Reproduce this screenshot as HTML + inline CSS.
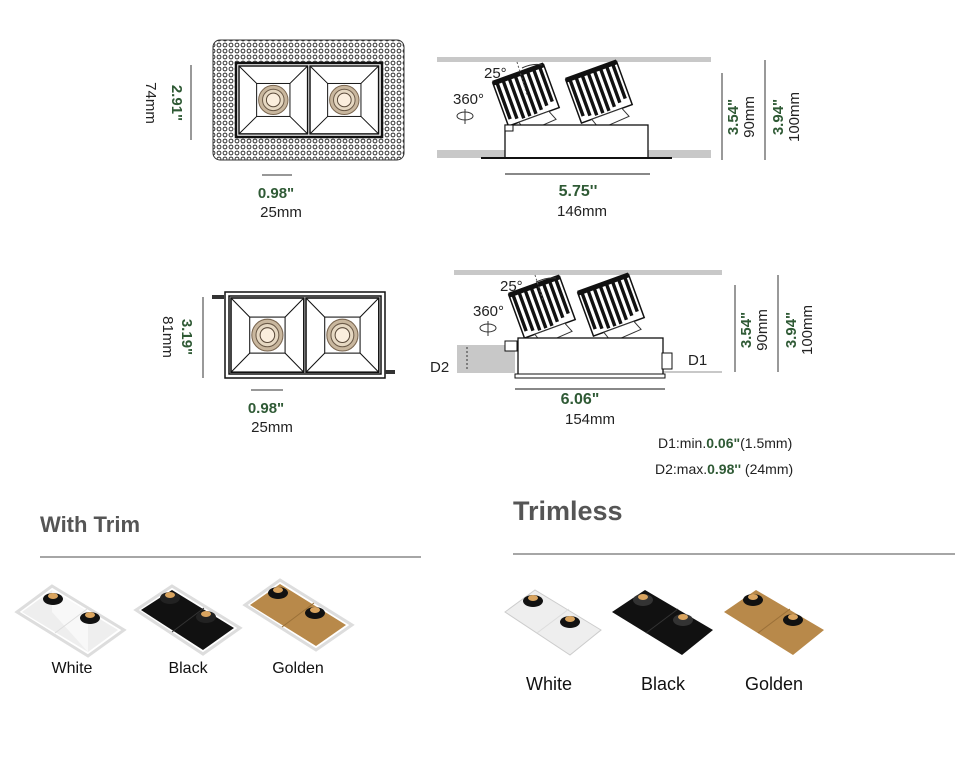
<!DOCTYPE html>
<html><head><meta charset="utf-8"><style>
html,body{margin:0;padding:0;background:#fff;}
svg{display:block;}
text{font-family:"Liberation Sans",sans-serif;}
.g{fill:#2f5a35;}
.k{fill:#222;}
</style></head><body>
<svg width="968" height="765" viewBox="0 0 968 765" xmlns="http://www.w3.org/2000/svg">
<defs>
<pattern id="dots" width="6" height="6" patternUnits="userSpaceOnUse">
<rect width="6" height="6" fill="#fff"/>
<circle cx="3" cy="3" r="1.9" fill="none" stroke="#333" stroke-width="1"/>
</pattern>
<g id="hs">
<rect x="-27" y="-26" width="54" height="46" fill="#fff" stroke="#111" stroke-width="1.5"/>
<g stroke="#111" stroke-width="3.4">
<line x1="-23" y1="-26" x2="-23" y2="14"/><line x1="-16.5" y1="-26" x2="-16.5" y2="16"/>
<line x1="-10" y1="-26" x2="-10" y2="18"/><line x1="-3.5" y1="-26" x2="-3.5" y2="18"/>
<line x1="3" y1="-26" x2="3" y2="18"/><line x1="9.5" y1="-26" x2="9.5" y2="16"/>
<line x1="16" y1="-26" x2="16" y2="14"/><line x1="22.5" y1="-26" x2="22.5" y2="12"/>
</g>
<rect x="-27" y="-28" width="54" height="5" fill="#111"/>
<path d="M-16 20 L16 20 L20 30 L-12 32 Z" fill="#fff" stroke="#333"/>
</g>
<g id="cell">
<rect x="0" y="0" width="70" height="70" fill="#fff" stroke="#111" stroke-width="1.5"/>
<rect x="18" y="18" width="34" height="34" fill="#fff" stroke="#111"/>
<line x1="0" y1="0" x2="18" y2="18" stroke="#111"/><line x1="70" y1="0" x2="52" y2="18" stroke="#111"/>
<line x1="0" y1="70" x2="18" y2="52" stroke="#111"/><line x1="70" y1="70" x2="52" y2="52" stroke="#111"/>
<circle cx="35" cy="35" r="15" fill="#c9b79e" stroke="#7a6650"/>
<circle cx="35" cy="35" r="11" fill="#e6d8c2" stroke="#6b5a48"/>
<circle cx="35" cy="35" r="7" fill="#fbeedd" stroke="#5a4a3a"/>
</g>
</defs>

<!-- TOP PLAN -->
<rect x="213" y="40" width="191" height="120" rx="7" fill="url(#dots)" stroke="#333"/>
<rect x="236" y="63" width="146" height="74" fill="#fff" stroke="#111" stroke-width="2.5"/>
<g transform="translate(239,66) scale(0.98,0.97)"><use href="#cell"/></g>
<g transform="translate(310,66) scale(0.98,0.97)"><use href="#cell"/></g>
<line x1="191" y1="65" x2="191" y2="140" stroke="#333"/>
<text transform="translate(172,103) rotate(90)" text-anchor="middle" class="g" font-size="15" font-weight="bold">2.91"</text>
<text transform="translate(146,103) rotate(90)" text-anchor="middle" class="k" font-size="15">74mm</text>
<line x1="262" y1="175" x2="292" y2="175" stroke="#777" stroke-width="1.5"/>
<text x="276" y="198" text-anchor="middle" class="g" font-size="15" font-weight="bold">0.98"</text>
<text x="281" y="217" text-anchor="middle" class="k" font-size="15">25mm</text>

<!-- TOP SIDE -->
<rect x="437" y="57" width="274" height="5" fill="#c8c8c8"/>
<rect x="437" y="150" width="274" height="8" fill="#c8c8c8"/>
<g transform="translate(527,98) rotate(-20)"><use href="#hs"/></g>
<g transform="translate(600,95) rotate(-20)"><use href="#hs"/></g>
<rect x="505" y="125" width="143" height="33" fill="#fff" stroke="#111" stroke-width="1.3"/>
<rect x="505" y="125" width="8" height="6" fill="#fff" stroke="#111"/>
<line x1="481" y1="158" x2="672" y2="158" stroke="#111" stroke-width="2"/>
<line x1="517" y1="62" x2="527" y2="95" stroke="#555" stroke-dasharray="2,2"/>
<path d="M522 68 Q533 63 542 65" fill="none" stroke="#333"/>
<text x="484" y="78" class="k" font-size="15">25°</text>
<text x="453" y="104" class="k" font-size="15">360°</text>
<ellipse cx="465" cy="116" rx="8" ry="4" fill="none" stroke="#333"/>
<line x1="465" y1="109" x2="465" y2="124" stroke="#333"/>
<line x1="505" y1="174" x2="650" y2="174" stroke="#111"/>
<text x="578" y="196" text-anchor="middle" class="g" font-size="16" font-weight="bold">5.75''</text>
<text x="582" y="216" text-anchor="middle" class="k" font-size="15">146mm</text>
<line x1="722" y1="73" x2="722" y2="160" stroke="#333"/>
<line x1="765" y1="60" x2="765" y2="160" stroke="#333"/>
<text transform="translate(738,117) rotate(-90)" text-anchor="middle" class="g" font-size="15" font-weight="bold">3.54"</text>
<text transform="translate(754,117) rotate(-90)" text-anchor="middle" class="k" font-size="15">90mm</text>
<text transform="translate(783,117) rotate(-90)" text-anchor="middle" class="g" font-size="15" font-weight="bold">3.94"</text>
<text transform="translate(799,117) rotate(-90)" text-anchor="middle" class="k" font-size="15">100mm</text>

<!-- SECOND PLAN -->
<rect x="225" y="292" width="160" height="86" fill="#fff" stroke="#111" stroke-width="1.5"/>
<rect x="229" y="296" width="152" height="78" fill="#fff" stroke="#111" stroke-width="1.5"/>
<g transform="translate(231,298) scale(1.04,1.06)"><use href="#cell"/></g>
<g transform="translate(306,298) scale(1.04,1.06)"><use href="#cell"/></g>
<rect x="212" y="295" width="12" height="4" fill="#333"/>
<rect x="385" y="370" width="10" height="4" fill="#333"/>
<line x1="203" y1="297" x2="203" y2="378" stroke="#333"/>
<text transform="translate(182,337) rotate(90)" text-anchor="middle" class="g" font-size="15" font-weight="bold">3.19"</text>
<text transform="translate(163,337) rotate(90)" text-anchor="middle" class="k" font-size="15">81mm</text>
<line x1="251" y1="390" x2="283" y2="390" stroke="#777" stroke-width="1.5"/>
<text x="266" y="413" text-anchor="middle" class="g" font-size="15" font-weight="bold">0.98"</text>
<text x="272" y="432" text-anchor="middle" class="k" font-size="15">25mm</text>

<!-- SECOND SIDE -->
<rect x="454" y="270" width="268" height="5" fill="#c8c8c8"/>
<rect x="457" y="345" width="58" height="28" fill="#c8c8c8"/>
<line x1="467" y1="347" x2="467" y2="371" stroke="#333" stroke-dasharray="2,2"/>
<line x1="663" y1="372" x2="722" y2="372" stroke="#c8c8c8" stroke-width="2"/>
<g transform="translate(543,310) rotate(-20)"><use href="#hs"/></g>
<g transform="translate(612,308) rotate(-20)"><use href="#hs"/></g>
<rect x="518" y="338" width="145" height="37" fill="#fff" stroke="#111" stroke-width="1.3"/>
<rect x="515" y="374" width="150" height="4" fill="#fff" stroke="#111"/>
<rect x="505" y="341" width="12" height="10" fill="#fff" stroke="#111"/>
<rect x="662" y="353" width="10" height="16" fill="#fff" stroke="#111"/>
<line x1="535" y1="275" x2="543" y2="300" stroke="#555" stroke-dasharray="2,2"/>
<path d="M536 282 Q547 277 556 278" fill="none" stroke="#333"/>
<text x="500" y="291" class="k" font-size="15">25°</text>
<text x="473" y="316" class="k" font-size="15">360°</text>
<ellipse cx="488" cy="328" rx="8" ry="4" fill="none" stroke="#333"/>
<line x1="488" y1="321" x2="488" y2="336" stroke="#333"/>
<text x="430" y="372" class="k" font-size="15">D2</text>
<text x="688" y="365" class="k" font-size="15">D1</text>
<line x1="515" y1="389" x2="665" y2="389" stroke="#111"/>
<text x="580" y="404" text-anchor="middle" class="g" font-size="16" font-weight="bold">6.06"</text>
<text x="590" y="424" text-anchor="middle" class="k" font-size="15">154mm</text>
<line x1="735" y1="285" x2="735" y2="372" stroke="#333"/>
<line x1="778" y1="275" x2="778" y2="372" stroke="#333"/>
<text transform="translate(751,330) rotate(-90)" text-anchor="middle" class="g" font-size="15" font-weight="bold">3.54"</text>
<text transform="translate(767,330) rotate(-90)" text-anchor="middle" class="k" font-size="15">90mm</text>
<text transform="translate(796,330) rotate(-90)" text-anchor="middle" class="g" font-size="15" font-weight="bold">3.94"</text>
<text transform="translate(812,330) rotate(-90)" text-anchor="middle" class="k" font-size="15">100mm</text>
<text x="658" y="448" class="k" font-size="14">D1:min.<tspan class="g" font-weight="bold">0.06"</tspan>(1.5mm)</text>
<text x="655" y="474" class="k" font-size="14">D2:max.<tspan class="g" font-weight="bold">0.98''</tspan> (24mm)</text>

<!-- WITH TRIM -->
<text x="40" y="532" font-size="22" font-weight="bold" fill="#555">With Trim</text>
<line x1="40" y1="557" x2="421" y2="557" stroke="#888" stroke-width="1.5"/>
<polygon points="17,612 52,586 124,630 88,656" fill="#fff" stroke="#ddd" stroke-width="3"/>
<polygon points="22,612 52,590 118,630 88,652" fill="#eee"/>
<polygon points="52,590 88,612 88,652 52,612" fill="#f8f8f8"/>
<line x1="55" y1="633" x2="87" y2="609" stroke="#ddd"/>
<ellipse cx="53" cy="599" rx="10" ry="6" fill="#111"/><ellipse cx="53" cy="596" rx="5" ry="3" fill="#d9a45f"/>
<ellipse cx="90" cy="618" rx="10" ry="6" fill="#111"/><ellipse cx="90" cy="615" rx="5" ry="3" fill="#d9a45f"/>
<polygon points="136,610 172,586 240,628 203,654" fill="#fff" stroke="#ddd" stroke-width="3"/>
<polygon points="141,610 172,590 234,628 203,650" fill="#111"/>
<line x1="172" y1="632" x2="204" y2="608" stroke="#333"/>
<ellipse cx="170" cy="598" rx="10" ry="6" fill="#222"/><ellipse cx="170" cy="595" rx="5" ry="3" fill="#d9a45f"/>
<ellipse cx="206" cy="617" rx="10" ry="6" fill="#222"/><ellipse cx="206" cy="614" rx="5" ry="3" fill="#d9a45f"/>
<polygon points="245,605 280,580 352,625 316,650" fill="#fff" stroke="#ddd" stroke-width="3"/>
<polygon points="250,605 280,584 346,625 316,646" fill="#b8894a"/>
<line x1="282" y1="627" x2="314" y2="603" stroke="#9a7038"/>
<ellipse cx="278" cy="593" rx="10" ry="6" fill="#111"/><ellipse cx="278" cy="590" rx="5" ry="3" fill="#d9a45f"/>
<ellipse cx="315" cy="613" rx="10" ry="6" fill="#111"/><ellipse cx="315" cy="610" rx="5" ry="3" fill="#d9a45f"/>
<text x="72" y="673" text-anchor="middle" fill="#111" font-size="16">White</text>
<text x="188" y="673" text-anchor="middle" fill="#111" font-size="16">Black</text>
<text x="298" y="673" text-anchor="middle" fill="#111" font-size="16">Golden</text>

<!-- TRIMLESS -->
<text x="513" y="520" font-size="27" font-weight="bold" fill="#555">Trimless</text>
<line x1="513" y1="554" x2="955" y2="554" stroke="#888" stroke-width="1.5"/>
<polygon points="505,612 535,590 601,630 570,655" fill="#eee" stroke="#ccc"/>
<line x1="537" y1="633" x2="569" y2="609" stroke="#ddd"/>
<ellipse cx="533" cy="601" rx="10" ry="6" fill="#111"/><ellipse cx="533" cy="598" rx="5" ry="3" fill="#d9a45f"/>
<ellipse cx="570" cy="622" rx="10" ry="6" fill="#111"/><ellipse cx="570" cy="619" rx="5" ry="3" fill="#d9a45f"/>
<polygon points="612,612 645,590 713,630 682,655" fill="#111"/>
<line x1="646" y1="633" x2="678" y2="609" stroke="#333"/>
<ellipse cx="643" cy="600" rx="10" ry="6" fill="#333"/><ellipse cx="643" cy="597" rx="5" ry="3" fill="#d9a45f"/>
<ellipse cx="683" cy="620" rx="10" ry="6" fill="#333"/><ellipse cx="683" cy="617" rx="5" ry="3" fill="#d9a45f"/>
<polygon points="724,612 756,590 824,630 793,655" fill="#b8894a"/>
<line x1="758" y1="633" x2="790" y2="609" stroke="#9a7038"/>
<ellipse cx="753" cy="600" rx="10" ry="6" fill="#111"/><ellipse cx="753" cy="597" rx="5" ry="3" fill="#d9a45f"/>
<ellipse cx="793" cy="620" rx="10" ry="6" fill="#111"/><ellipse cx="793" cy="617" rx="5" ry="3" fill="#d9a45f"/>
<text x="549" y="690" text-anchor="middle" fill="#111" font-size="18">White</text>
<text x="663" y="690" text-anchor="middle" fill="#111" font-size="18">Black</text>
<text x="774" y="690" text-anchor="middle" fill="#111" font-size="18">Golden</text>
</svg>
</body></html>
